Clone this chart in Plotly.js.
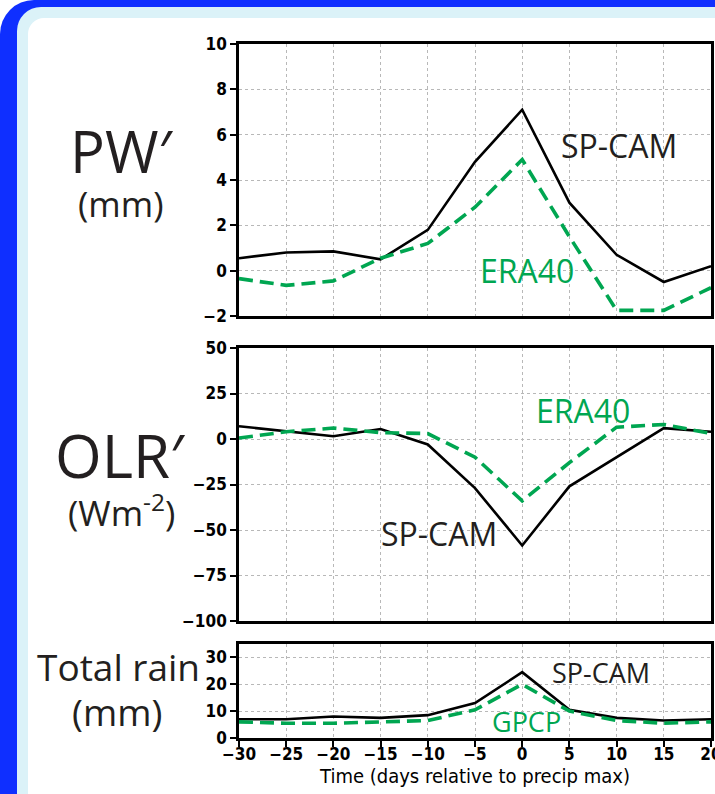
<!DOCTYPE html>
<html>
<head>
<meta charset="utf-8">
<script src="https://cdn.plot.ly/plotly-3.0.1.min.js"></script>
<style>
html,body{margin:0;padding:0;background:#fff;}
#wrap{position:relative;width:715px;height:794px;overflow:hidden;background:#fff;}
#blue{position:absolute;left:0;top:0;width:760px;height:840px;background:#0f2fff;border-top-left-radius:34px;}
#cyan{position:absolute;left:17px;top:7px;width:760px;height:840px;background:#dbf2f8;border-top-left-radius:24px;}
#white{position:absolute;left:28px;top:18px;width:760px;height:840px;background:#fff;border-top-left-radius:16px;}
#chart{position:absolute;left:0;top:0;width:715px;height:794px;}
</style>
</head>
<body>
<div id="wrap">
  <div id="blue"></div><div id="cyan"></div><div id="white"></div>
  <div id="chart"></div>
</div>
<script>
// ---- data ----
const days = [-30, -25, -20, -15, -10, -5, 0, 5, 10, 15, 20];
const pwSPCAM = [0.55, 0.8, 0.85, 0.5, 1.8, 4.8, 7.1, 3.0, 0.7, -0.5, 0.2];
const pwERA40 = [-0.35, -0.65, -0.45, 0.55, 1.2, 2.8, 4.9, 1.5, -1.75, -1.75, -0.75];
const olrSPCAM = [7, 4.3, 1.5, 5.5, -3, -27, -58.5, -26, -10, 6, 4];
const olrERA40 = [0.5, 4, 6, 3.5, 3, -10, -34, -13, 6.5, 8, 3];
const rainSPCAM = [7, 7, 8, 7.5, 8.5, 13, 24.5, 10.5, 7.5, 6.5, 7];
const rainGPCP = [6, 5.5, 5.5, 6, 6.5, 10.5, 20, 10, 6.5, 5.5, 6];
const xTicks = [-30, -25, -20, -15, -10, -5, 0, 5, 10, 15, 20];
const pwTicks = [-2, 0, 2, 4, 6, 8, 10];
const olrTicks = [-100, -75, -50, -25, 0, 25, 50];
const rainTicks = [0, 10, 20, 30];

const GREEN = '#00a651';
const TXT = '#231f20';
const W = 715, H = 794;
const px = v => v / W;
const py = v => 1 - v / H;

const blackLine = {color: '#000', width: 2.6};
const greenLine = {color: GREEN, width: 3.6, dash: '14px,7px'};

const traces = [
  {x: days, y: pwSPCAM, xaxis: 'x', yaxis: 'y', mode: 'lines', line: blackLine},
  {x: days, y: pwERA40, xaxis: 'x', yaxis: 'y', mode: 'lines', line: greenLine},
  {x: days, y: olrSPCAM, xaxis: 'x2', yaxis: 'y2', mode: 'lines', line: blackLine},
  {x: days, y: olrERA40, xaxis: 'x2', yaxis: 'y2', mode: 'lines', line: greenLine},
  {x: days, y: rainSPCAM, xaxis: 'x3', yaxis: 'y3', mode: 'lines', line: blackLine},
  {x: days, y: rainGPCP, xaxis: 'x3', yaxis: 'y3', mode: 'lines', line: greenLine}
];

const tickFont = {family: 'DejaVu Sans Condensed', size: 17, color: '#000', weight: 700};
const xDom = [px(239), px(711)];

function xa(anchor, labels) {
  return {
    domain: xDom, anchor: anchor, range: [-30, 20], tickvals: xTicks,
    showticklabels: labels, ticks: 'outside', ticklen: labels ? 6 : 0, tickwidth: 2, tickcolor: '#000',
    showgrid: true, gridcolor: '#b8b8b8', griddash: 'dot', gridwidth: 1,
    showline: true, linecolor: '#000', linewidth: 2.8, mirror: true, zeroline: false,
    tickfont: tickFont, automargin: false, fixedrange: true, ticklabeloverflow: 'allow'
  };
}
function ya(anchor, dom, range, vals) {
  return {
    domain: dom, anchor: anchor, range: range, tickvals: vals,
    ticks: 'outside', ticklen: 6, tickwidth: 2, tickcolor: '#000',
    showgrid: true, gridcolor: '#b8b8b8', griddash: 'dot', gridwidth: 1,
    showline: true, linecolor: '#000', linewidth: 2.8, mirror: true, zeroline: false,
    tickfont: tickFont, automargin: false, fixedrange: true, ticklabeloverflow: 'allow'
  };
}

const x3 = xa('y3', true);
x3.ticklabelstandoff = -7;
x3.title = {text: 'Time (days relative to precip max)', font: {family: 'DejaVu Sans Condensed', size: 20, color: '#000'}, standoff: 0};

const labFont = (s, c) => ({family: 'Open Sans', size: s, color: c || TXT});

const layout = {
  width: W, height: H,
  margin: {l: 0, r: 0, t: 0, b: 0},
  paper_bgcolor: 'rgba(0,0,0,0)', plot_bgcolor: 'rgba(0,0,0,0)',
  showlegend: false,
  xaxis: xa('y', false),
  yaxis: ya('x', [py(316), py(44)], [-2, 10], pwTicks),
  xaxis2: xa('y2', false),
  yaxis2: ya('x2', [py(621), py(348)], [-100, 50], olrTicks),
  xaxis3: x3,
  yaxis3: ya('x3', [py(738), py(644)], [0, 35], rainTicks),
  annotations: [
    {xref: 'paper', yref: 'paper', x: px(121), y: py(150), text: 'PW′', showarrow: false, font: labFont(58), xanchor: 'center', yanchor: 'middle'},
    {xref: 'paper', yref: 'paper', x: px(120), y: py(203), text: '(mm)', showarrow: false, font: labFont(35), xanchor: 'center', yanchor: 'middle'},
    {xref: 'paper', yref: 'paper', x: px(120), y: py(455), text: 'OLR′', showarrow: false, font: labFont(60), xanchor: 'center', yanchor: 'middle'},
    {xref: 'paper', yref: 'paper', x: px(121), y: py(510), text: '(Wm<sup>-2</sup>)', showarrow: false, font: labFont(35), xanchor: 'center', yanchor: 'middle'},
    {xref: 'paper', yref: 'paper', x: px(118), y: py(666), text: 'Total rain', showarrow: false, font: labFont(37), xanchor: 'center', yanchor: 'middle'},
    {xref: 'paper', yref: 'paper', x: px(117), y: py(711), text: '(mm)', showarrow: false, font: labFont(37), xanchor: 'center', yanchor: 'middle'},
    {xref: 'x', yref: 'y', x: 10.3, y: 5.5, text: 'SP-CAM', showarrow: false, font: labFont(32)},
    {xref: 'x', yref: 'y', x: 0.5, y: 0.0, text: 'ERA40', showarrow: false, font: labFont(32, GREEN)},
    {xref: 'x2', yref: 'y2', x: 6.4, y: 15.5, text: 'ERA40', showarrow: false, font: labFont(32, GREEN)},
    {xref: 'x2', yref: 'y2', x: -8.8, y: -52, text: 'SP-CAM', showarrow: false, font: labFont(32)},
    {xref: 'x3', yref: 'y3', x: 8.3, y: 24.5, text: 'SP-CAM', showarrow: false, font: labFont(27)},
    {xref: 'x3', yref: 'y3', x: 0.5, y: 6.3, text: 'GPCP', showarrow: false, font: labFont(27, GREEN)}
  ]
};

Plotly.newPlot('chart', traces, layout, {staticPlot: true, displayModeBar: false});
</script>
</body>
</html>
